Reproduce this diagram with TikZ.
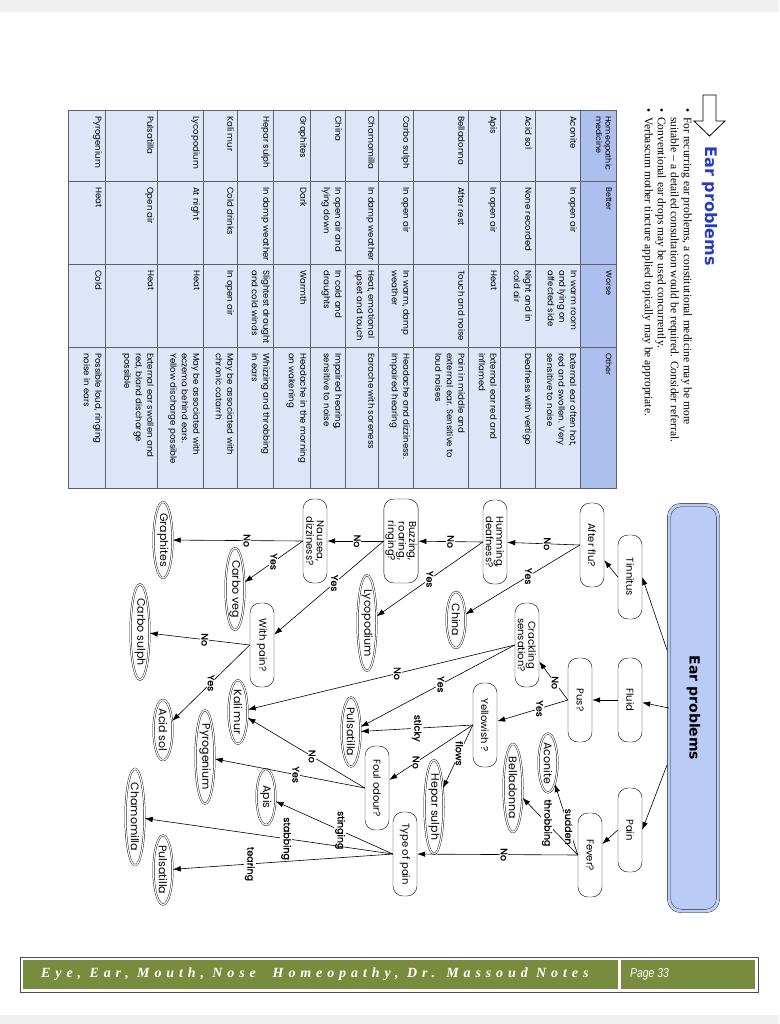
\documentclass[tikz,border=0pt]{standalone}
\usepackage{fontspec}
\setmainfont{Liberation Serif}
\newfontfamily\gothfont{Poppins}
\newfontfamily\lblfont[FakeBold=1]{Poppins}
\newfontfamily\headfont{DejaVu Sans}
\newfontfamily\footfont[LetterSpace=35]{Liberation Serif}
\newfontfamily\pagefont{Liberation Sans}
\usetikzlibrary{arrows.meta,shapes.geometric}
\definecolor{earblue}{RGB}{186,203,246}
\definecolor{titleblue}{RGB}{36,58,196}
\definecolor{hdrblue}{RGB}{172,191,238}
\definecolor{cellblue}{RGB}{221,230,249}
\definecolor{gridgrey}{RGB}{95,95,105}
\definecolor{footgreen}{RGB}{120,140,62}
\tikzset{
  question/.style={draw, fill=white, rounded corners=10pt, rotate=-90, align=center,
    minimum width=84pt, minimum height=24pt, inner sep=1.5pt,
    font=\gothfont\fontsize{10}{10.5}\selectfont},
  remedy/.style={draw, ellipse, double, double distance=1.2pt, fill=white, rotate=-90,
    inner xsep=0pt, inner ysep=1pt, minimum width=56pt, minimum height=19pt,
    font=\gothfont\fontsize{11}{11}\selectfont},
  branch/.style={fill=white, rotate=-90, inner sep=1pt, font=\lblfont\fontsize{9.5}{9.5}\selectfont},
  arr/.style={-{Latex[length=8pt,width=5.5pt]}, line width=0.6pt},
  cell/.style={rotate=-90, anchor=north west, align=left, inner sep=0pt,
    font=\gothfont\fontsize{8.6}{11.5}\selectfont},
  hcell/.style={cell, font=\gothfont\fontsize{8}{9.5}\selectfont},
}
\begin{document}
\begin{tikzpicture}[x=1pt,y=-1pt]
  \useasboundingbox (0,0) rectangle (779,1024);
  % Page
  \fill[white] (0,0) rectangle (779,1024);
  \fill[black!6] (0,0) rectangle (779,12);
  \fill[black!6] (0,1015) rectangle (779,1024);

  % Heading and notes
  \draw[line width=0.8pt, fill=white] (703,95) -- (716,95) -- (716,121) -- (725,121)
    -- (709.5,136) -- (694,121) -- (703,121) -- cycle;
  \node[rotate=-90, anchor=west, text=titleblue, font=\headfont\bfseries\fontsize{16}{16}\selectfont]
    (title) at (710,143) {Ear problems};
  \node[rotate=-90, anchor=north west, align=left, inner sep=0pt, font=\fontsize{11.5}{13}\selectfont]
    (notes) at (692,108) {%
    \makebox[9pt][l]{\textbullet}For recurring ear problems, a constitutional medicine may be more\\
    \hspace*{9pt}suitable – a detailed consultation would be required. Consider referral.\\
    \makebox[9pt][l]{\textbullet}Conventional ear drops may be used concurrently.\\
    \makebox[9pt][l]{\textbullet}Verbascum mother tincture applied topically may be appropriate.};

  % Remedy table
  \fill[cellblue] (68,110) rectangle (580,488);
  \fill[hdrblue] (580,110) rectangle (616,488);
  \foreach \r in {580,535,500,468,413,378,345,310,273,237,203,157,105}
    \draw[gridgrey, line width=0.5pt] (\r,110) -- (\r,488);
  \foreach \c in {181,264,347}
    \draw[gridgrey, line width=0.5pt] (68,\c) -- (616,\c);
  \draw[gridgrey, line width=0.7pt] (68,110) rectangle (616,488);
  \node[hcell] (h1) at (612,116) {Homeopathic\\medicine};
  \node[hcell] (h2) at (612,187) {Better};
  \node[hcell] (h3) at (612,270) {Worse};
  \node[hcell] (h4) at (612,353) {Other};
  \foreach \rt/\rname/\rbetter/\rworse/\rother in {
    580/Aconite/{In open air}/{In warm room\\and lying on\\affected side}/{External ear often hot,\\red and swollen. Very\\sensitive to noise},
    535/Acid sol/{None recorded}/{Night and in\\cold air}/{Deafness with vertigo},
    500/Apis/{In open air}/{Heat}/{External ear red and\\inflamed},
    468/Belladonna/{After rest}/{Touch and noise}/{Pain in middle and\\external ear. Sensitive to\\loud noises},
    413/Carbo sulph/{In open air}/{In warm, damp\\weather}/{Headache and dizziness.\\Impaired hearing},
    378/Chamomilla/{In damp weather}/{Heat, emotional\\upset and touch}/{Earache with soreness},
    345/China/{In open air and\\lying down}/{In cold and\\draughts}/{Impaired hearing,\\sensitive to noise},
    310/Graphites/{Dark}/{Warmth}/{Headache in the morning\\on wakening},
    273/Hepar sulph/{In damp weather}/{Slightest draught\\and cold winds}/{Whizzing and throbbing\\in ears},
    237/Kali mur/{Cold drinks}/{In open air}/{May be associated with\\chronic catarrh},
    203/Lycopodium/{At night}/{Heat}/{May be associated with\\eczema behind ears.\\Yellow discharge possible},
    157/Pulsatilla/{Open air}/{Heat}/{External ear swollen and\\red, bland discharge\\possible},
    105/Pyrogenium/{Heat}/{Cold}/{Possible loud, ringing\\noise in ears}}{
    \node[cell] (rn\rt) at (\rt-3,116) {\rname};
    \node[cell] (rb\rt) at (\rt-3,187) {\rbetter};
    \node[cell] (rw\rt) at (\rt-3,270) {\rworse};
    \node[cell] (ro\rt) at (\rt-3,353) {\rother};
  }

  % Decision tree
  \node[draw=black!85, double=earblue, double distance=3pt, fill=earblue, rounded corners=12pt,
    rotate=-90, minimum width=406pt, minimum height=49pt,
    font=\headfont\bfseries\fontsize{14}{14}\selectfont] (ear) at (693.5,708) {Ear problems};
  \node[question] (tin) at (630,577) {Tinnitus};
  \node[question] (flu) at (630,700) {Fluid};
  \node[question] (pain) at (630,830) {Pain};
  \node[question] (aflu) at (592,545) {After flu?};
  \node[question] (pus) at (580,700) {Pus?};
  \node[question] (fever) at (590,855) {Fever?};
  \node[question] (hum) at (495,542) {Humming,\\deafness?};
  \node[question] (crack) at (527,645) {Crackling\\sensation?};
  \node[question] (yel) at (485,725) {Yellowish ?};
  \node[question] (buzz) at (401,541) {Buzzing,\\roaring,\\ringing?};
  \node[question] (foul) at (377,788) {Foul odour?};
  \node[question] (tpain) at (405,854) {Type of pain};
  \node[question] (naus) at (315,541) {Nausea,\\dizziness?};
  \node[question] (wpain) at (262,645) {With pain?};
  \node[remedy] (aco) at (548,763) {Aconite};
  \node[remedy] (bell) at (513,788) {Belladonna};
  \node[remedy] (china) at (456,620) {China};
  \node[remedy] (lyco) at (367,623) {Lycopodium};
  \node[remedy] (puls) at (351,732) {Pulsatilla};
  \node[remedy] (hep) at (434,807) {Hepar sulph};
  \node[remedy] (kali) at (238,712) {Kali mur};
  \node[remedy] (apis) at (266,797) {Apis};
  \node[remedy] (graph) at (163,540) {Graphites};
  \node[remedy] (cveg) at (235,589) {Carbo veg};
  \node[remedy] (csul) at (140,632) {Carbo sulph};
  \node[remedy] (acid) at (163,730) {Acid sol};
  \node[remedy] (pyro) at (205,757) {Pyrogenium};
  \node[remedy] (cham) at (135,817) {Chamomilla};
  \node[remedy] (puls2) at (163,870) {Pulsatilla};

  % Branches
  \coordinate (e1) at (667,650);
  \coordinate (e3) at (667,765);
  \draw[arr] (e1) -- (tin.north);
  \draw[arr] (ear.south) -- (flu);
  \draw[arr] (e3) -- (pain.north);
  \draw[arr] (tin.south) -- (aflu);
  \draw[arr] (flu.south) -- (pus);
  \draw[arr] (pain.south) -- (fever);
  \draw[arr] (aflu.south) -- node[branch, pos=.45] {No} (hum);
  \draw[arr] (aflu.south) -- node[branch, pos=.45] {Yes} (china);
  \draw[arr] (pus.south) -- node[branch, pos=.45] {No} (crack);
  \draw[arr] (pus.south) -- node[branch, pos=.4] {Yes} (yel);
  \draw[arr] (fever.south) -- node[branch, pos=.4] {sudden} (aco);
  \draw[arr] (fever.south) -- node[branch, pos=.56] {throbbing} (bell);
  \draw[arr] (fever.south) -- node[branch, pos=.46] {No} (tpain);
  \draw[arr] (hum.south) -- node[branch, pos=.5] {No} (buzz);
  \draw[arr] (hum.south) -- node[branch, pos=.5] {Yes} (lyco);
  \draw[arr] (buzz.south) -- node[branch, pos=.47] {No} (naus);
  \draw[arr] (buzz.south) -- node[branch, pos=.45] {Yes} (wpain);
  \draw[arr] (naus.south) -- node[branch, pos=.43] {No} (graph);
  \draw[arr] (naus.south) -- node[branch, pos=.5] {Yes} (cveg);
  \draw[arr] (wpain.south) -- node[branch, pos=.45] {No} (csul);
  \draw[arr] (wpain.south) -- node[branch, pos=.5] {Yes} (acid);
  \draw[arr] (crack.south) -- node[branch, pos=.44] {No} (kali);
  \draw[arr] (crack.south) -- node[branch, pos=.48] {Yes} (puls);
  \draw[arr] (yel.south) -- node[branch, pos=.5] {sticky} (puls);
  \draw[arr] (yel.south) -- node[branch, pos=.45] {flows} (hep);
  \draw[arr] (yel.south) -- node[branch, pos=.68] {No} (foul);
  \draw[arr] (foul.south) -- node[branch, pos=.45] {No} (kali);
  \draw[arr] (foul.south) -- node[branch, pos=.46] {Yes} (pyro);
  \draw[arr] (tpain.south) -- node[branch, pos=.45] {stinging} (apis);
  \draw[arr] (tpain.south) -- node[branch, pos=.43] {stabbing} (cham);
  \draw[arr] (tpain.south) -- node[branch, pos=.65] {tearing} (puls2);

  % Footer
  \draw[black!70, line width=1pt] (20,957) rectangle (758,992);
  \fill[footgreen] (23,960) rectangle (618,989);
  \fill[footgreen] (621,960) rectangle (755,989);
  \node[anchor=west, inner sep=0pt, text=white, font=\footfont\bfseries\itshape\fontsize{14}{14}\selectfont]
    (foottitle) at (41,974) {Eye, Ear, Mouth, Nose\ \ Homeopathy, Dr. Massoud Notes};
  \node[anchor=west, inner sep=0pt, text=white, xscale=.8, font=\pagefont\itshape\fontsize{13}{13}\selectfont]
    (pagenum) at (630,974) {Page 33};
\end{tikzpicture}
\end{document}
